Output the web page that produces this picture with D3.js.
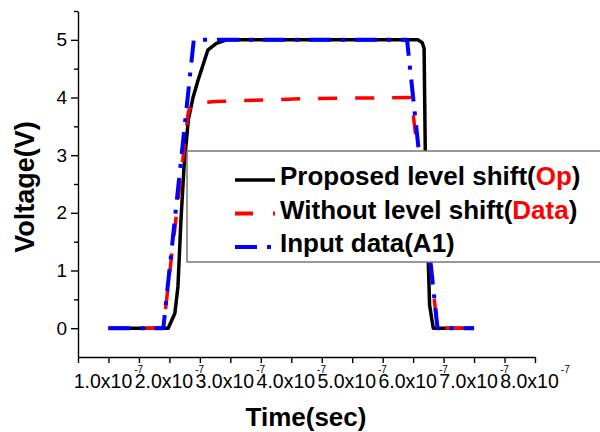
<html>
<head>
<meta charset="utf-8">
<title>Level shift transient</title>
<script src="https://d3js.org/d3.v7.min.js"></script>
<style>
  body { margin: 0; background: #fff; }
  text { font-family: "Liberation Sans", Arial, sans-serif; }
</style>
</head>
<body>
<svg width="600" height="432"></svg>
<script>
// proposed level shift (Op) - black solid
var timeOp = [1.0e-7, 1.98e-7, 2.09e-7, 2.14e-7, 2.19e-7, 2.24e-7, 2.31e-7, 2.39e-7, 2.47e-7, 2.63e-7, 2.77e-7, 2.94e-7,
              6.08e-7, 6.15e-7, 6.18e-7, 6.20e-7, 6.245e-7, 6.27e-7, 6.33e-7, 7.0e-7];
var voltOp = [0, 0, 0.26, 0.72, 1.88, 2.8, 3.61, 4.01, 4.30, 4.82, 4.94, 5.0,
              5.0, 4.95, 4.85, 3.0, 1.3, 0.4, 0, 0];
// without level shift (Data) - red dashed
var timeData = [1.0e-7, 1.9e-7, 2.31e-7, 2.36e-7, 2.45e-7, 2.75e-7, 4.2e-7, 5.97e-7, 6.4e-7, 7.0e-7];
var voltData = [0, 0, 3.75, 3.86, 3.90, 3.93, 3.98, 4.0, 0, 0];
// input data (A1) - blue dash dot
var timeA1 = [1.0e-7, 1.9e-7, 2.4e-7, 5.9e-7, 6.4e-7, 7.0e-7];
var voltA1 = [0, 0, 5, 5, 0, 0];

var xMinorTicks = [0.5e-7, 1.0e-7, 1.5e-7, 2.0e-7, 2.5e-7, 3.0e-7, 3.5e-7, 4.0e-7, 4.5e-7, 5.0e-7, 5.5e-7, 6.0e-7, 6.5e-7, 7.0e-7, 7.5e-7, 8.0e-7];
var xMajorTicks = [1.0e-7, 2.0e-7, 3.0e-7, 4.0e-7, 5.0e-7, 6.0e-7, 7.0e-7, 8.0e-7];
var xTickLabels = ["1.0x10", "2.0x10", "3.0x10", "4.0x10", "5.0x10", "6.0x10", "7.0x10", "8.0x10"];
var yMajorTicks = [0, 1, 2, 3, 4, 5];
var yMinorTicks = [0.5, 1.5, 2.5, 3.5, 4.5, 5.5];

var legendParts = [["Proposed level shift(", "Op", ")"],
                   ["Without level shift(", "Data", ")"],
                   ["Input data(A1)", "", ""]];

var svg = d3.select("svg");

var x = d3.scaleLinear().domain([0.5e-7, 8.0e-7]).range([78, 535]);
var y = d3.scaleLinear().domain([-0.5, 5.5]).range([357, 11]);

// axes
var yMinor = svg.append("g")
    .attr("transform", "translate(78,0)")
    .call(d3.axisLeft(y).tickValues(yMinorTicks).tickSize(4).tickSizeOuter(0).tickFormat(""));
yMinor.select(".domain").remove();

var yAxis = svg.append("g")
    .attr("transform", "translate(78,0)")
    .call(d3.axisLeft(y).tickValues(yMajorTicks).tickSize(7).tickSizeOuter(0).tickPadding(4).tickFormat(d3.format("d")));
yAxis.selectAll("text").style("font-size", "19px").attr("fill", "#000");

var xAxis = svg.append("g")
    .attr("transform", "translate(0,357)")
    .call(d3.axisBottom(x).tickValues(xMinorTicks).tickSize(6).tickSizeOuter(0).tickFormat(""));

svg.selectAll(".domain, .tick line").attr("stroke", "#000").attr("stroke-width", 1.4);

var xl = svg.append("g").selectAll("text")
    .data(xMajorTicks)
    .enter().append("text")
    .attr("x", d => x(d))
    .attr("y", 388)
    .attr("text-anchor", "middle")
    .style("font-size", "19.5px");
xl.append("tspan").text((d, i) => xTickLabels[i]);
xl.append("tspan").attr("dx", 2).attr("dy", -15).style("font-size", "10px").text("-7");

// lines
var line = d3.line()
    .x(d => x(d[0]))
    .y(d => y(d[1]));

function pairs(ts, vs) { return ts.map((t, i) => [t, vs[i]]); }

svg.append("path")
    .attr("d", line(pairs(timeOp, voltOp)))
    .attr("fill", "none").attr("stroke", "#000").attr("stroke-width", 3.5)
    .attr("stroke-linejoin", "round");

svg.append("path")
    .attr("d", line(pairs(timeData, voltData)))
    .attr("fill", "none").attr("stroke", "#ff0000").attr("stroke-width", 3.5)
    .attr("stroke-dasharray", "19,18").attr("stroke-linejoin", "round");

svg.append("path")
    .attr("d", line(pairs(timeA1, voltA1)))
    .attr("fill", "none").attr("stroke", "#0000ff").attr("stroke-width", 4)
    .attr("stroke-dasharray", "22,10,4,10").attr("stroke-linejoin", "round");

// legend
svg.append("rect")
    .attr("x", 187).attr("y", 151).attr("width", 430).attr("height", 111)
    .attr("fill", "#fff").attr("stroke", "#777").attr("stroke-width", 1.5);

var baselines = [185, 218.5, 252];
var styles = [{c: "#000", d: null, w: 3.5}, {c: "#ff0000", d: "18,20", w: 4}, {c: "#0000ff", d: "22,10,4,10", w: 4}];

var lg = svg.append("g").selectAll("g")
    .data(legendParts)
    .enter().append("g");

lg.append("line")
    .attr("x1", 235).attr("x2", 275)
    .attr("y1", (d, i) => baselines[i] - 5).attr("y2", (d, i) => baselines[i] - 5)
    .attr("stroke", (d, i) => styles[i].c)
    .attr("stroke-width", (d, i) => styles[i].w)
    .attr("stroke-dasharray", (d, i) => styles[i].d);

var lt = lg.append("text")
    .attr("x", 280)
    .attr("y", (d, i) => baselines[i])
    .style("font-size", "26px").style("font-weight", "bold");
lt.append("tspan").text(d => d[0]);
lt.append("tspan").attr("fill", "#ff0000").text(d => d[1]);
lt.append("tspan").text(d => d[2]);

// axis titles
svg.append("text")
    .attr("transform", "translate(34,187) rotate(-90)")
    .attr("text-anchor", "middle")
    .style("font-size", "27px").style("font-weight", "bold")
    .text("Voltage(V)");

svg.append("text")
    .attr("x", 306).attr("y", 426)
    .attr("text-anchor", "middle")
    .style("font-size", "26px").style("font-weight", "bold")
    .text("Time(sec)");
</script>
</body>
</html>
